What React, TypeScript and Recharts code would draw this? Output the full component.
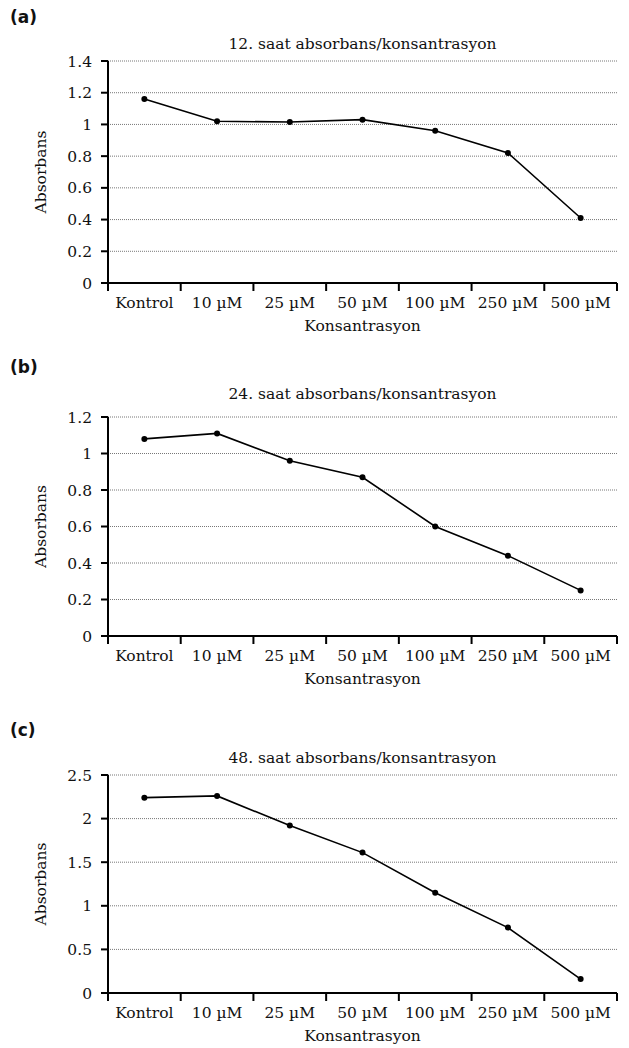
import React from "react";
import { LineChart, Line, XAxis, YAxis, Label, ReferenceLine } from "recharts";

const CATEGORIES = ["Kontrol", "10 µM", "25 µM", "50 µM", "100 µM", "250 µM", "500 µM"];

const SAAT12 = [1.16, 1.02, 1.015, 1.03, 0.96, 0.82, 0.41];
const SAAT24 = [1.08, 1.11, 0.96, 0.87, 0.6, 0.44, 0.25];
const SAAT48 = [2.24, 2.26, 1.92, 1.61, 1.15, 0.75, 0.16];

const TICKS_12 = [0, 0.2, 0.4, 0.6, 0.8, 1, 1.2, 1.4];
const TICKS_24 = [0, 0.2, 0.4, 0.6, 0.8, 1, 1.2];
const TICKS_48 = [0, 0.5, 1, 1.5, 2, 2.5];

// tick marks sit on the category boundaries, labels in between
const BOUNDARY_TICKS = [0, 1, 2, 3, 4, 5, 6, 7];

const FONT = "'DejaVu Serif', serif";
const TEXT_STYLE = { fill: "#111", fontSize: 15.5, fontFamily: FONT };
const CHART_WIDTH = 622;
const Y_AXIS_WIDTH = 108;
const RIGHT = 5;
const PLOT_WIDTH = CHART_WIDTH - RIGHT - Y_AXIS_WIDTH;

function CategoryTick(props: any) {
  const { x, y, payload } = props;
  const i = payload.value;
  if (i >= CATEGORIES.length) return null;
  const band = (typeof props.width === "number" && props.width > 0 ? props.width : PLOT_WIDTH) / CATEGORIES.length;
  return (
    <text x={x + band / 2} y={y} dy="0.71em" textAnchor="middle" {...TEXT_STYLE}>
      {CATEGORIES[i]}
    </text>
  );
}

interface PanelProps {
  letter: string;
  title: string;
  values: number[];
  ticks: number[];
  letterY: number;
  titleY: number;
  plotTop: number;
  plotHeight: number;
}

function Panel({ letter, title, values, ticks, letterY, titleY, plotTop, plotHeight }: PanelProps) {
  const rows = values.map((v, i) => ({ pos: i + 0.5, value: v }));
  const top = 12;
  const bottom = 5;
  const height = plotHeight + top + 48 + bottom;
  return (
    <>
      <div style={{
        position: "absolute", left: 10, top: letterY - 11, fontFamily: "'DejaVu Sans', sans-serif",
        fontWeight: 700, fontSize: 17, color: "#111", lineHeight: "22px",
      }}>{letter}</div>
      <div style={{
        position: "absolute", left: Y_AXIS_WIDTH, width: PLOT_WIDTH, top: titleY - 10, textAlign: "center",
        fontFamily: FONT, fontSize: 15.5, color: "#111", lineHeight: "20px",
      }}>{title}</div>
      <div style={{ position: "absolute", left: 0, top: plotTop - top }}>
        <LineChart width={CHART_WIDTH} height={height} data={rows}
          margin={{ top, right: RIGHT, left: 0, bottom }}>
          {ticks.slice(1).map((t) => (
            <ReferenceLine key={t} y={t} stroke="#777" strokeDasharray="1 1" />
          ))}
          <XAxis type="number" dataKey="pos" domain={[0, 7]} ticks={BOUNDARY_TICKS} interval={0}
            tick={<CategoryTick />} height={48} tickSize={8} tickMargin={6}
            axisLine={{ stroke: "#000", strokeWidth: 2 }} tickLine={{ stroke: "#000", strokeWidth: 2 }}>
            <Label value="Konsantrasyon" position="insideBottom" offset={0} style={TEXT_STYLE} />
          </XAxis>
          <YAxis type="number" domain={[0, ticks[ticks.length - 1]]} ticks={ticks} width={Y_AXIS_WIDTH}
            tick={TEXT_STYLE} tickSize={7} tickMargin={9} interval={0}
            axisLine={{ stroke: "#000", strokeWidth: 2 }} tickLine={{ stroke: "#000", strokeWidth: 2 }}>
            <Label value="Absorbans" angle={-90} position="center" dx={-14} style={TEXT_STYLE} />
          </YAxis>
          <ReferenceLine x={0} stroke="#000" strokeWidth={2} ifOverflow="visible" />
          <Line type="linear" dataKey="value" stroke="#000" strokeWidth={1.6}
            dot={{ r: 3, fill: "#000", stroke: "#000", strokeWidth: 0 }} activeDot={false}
            isAnimationActive={false} />
        </LineChart>
      </div>
    </>
  );
}

export default function App() {
  return (
    <div style={{
      position: "absolute", left: 0, top: 0, width: 629, height: 1048,
      overflow: "hidden", background: "#fff",
    }}>
      <Panel letter="(a)" title="12. saat absorbans/konsantrasyon" values={SAAT12} ticks={TICKS_12}
        letterY={17} titleY={44} plotTop={61} plotHeight={222} />
      <Panel letter="(b)" title="24. saat absorbans/konsantrasyon" values={SAAT24} ticks={TICKS_24}
        letterY={367} titleY={394} plotTop={417} plotHeight={219} />
      <Panel letter="(c)" title="48. saat absorbans/konsantrasyon" values={SAAT48} ticks={TICKS_48}
        letterY={730} titleY={758} plotTop={775} plotHeight={218} />
    </div>
  );
}
